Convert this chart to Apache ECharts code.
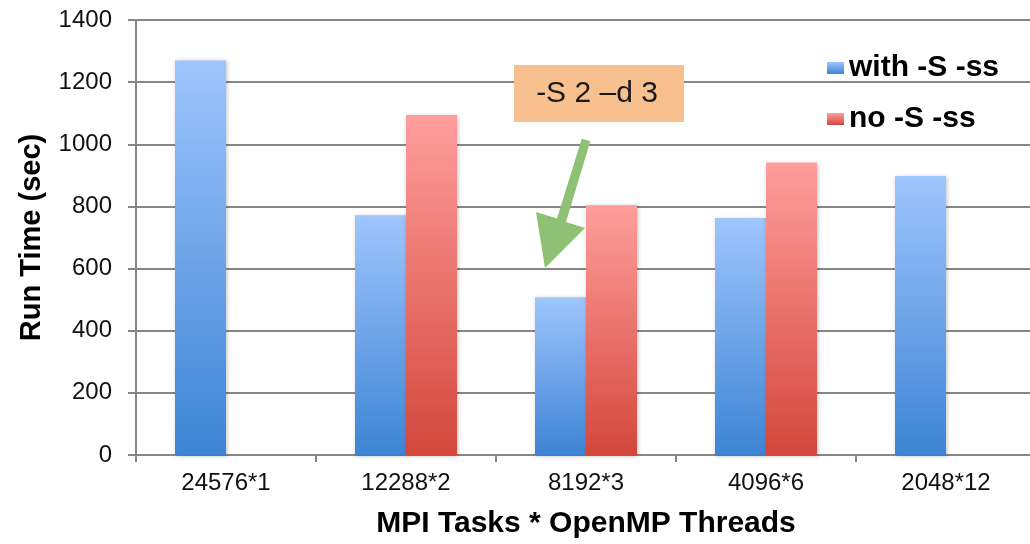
<!DOCTYPE html>
<html>
<head>
<meta charset="utf-8">
<script src="https://cdn.jsdelivr.net/npm/echarts@6/dist/echarts.min.js"></script>
<style>
html,body{margin:0;padding:0;background:#fff;overflow:hidden;width:1030px;height:544px;}
#chart{width:1036px;height:544px;}
</style>
</head>
<body>
<div id="chart"></div>
<script>
const categories = ['24576*1', '12288*2', '8192*3', '4096*6', '2048*12'];
const withS = [1270, 772, 508, 763, 898];
const noS = [null, 1094, 804, 941, null];
const seriesNames = ['with -S -ss', 'no -S -ss'];
const yTicks = [0, 200, 400, 600, 800, 1000, 1200, 1400];
const annotationText = '-S 2 \u2013d 3';

const FONT = '"Liberation Sans", Arial, Helvetica, sans-serif';
const chart = echarts.init(document.getElementById('chart'), null, {renderer: 'canvas'});

function grad(top, bottom) {
  return new echarts.graphic.LinearGradient(0, 0, 0, 1, [
    {offset: 0, color: top}, {offset: 1, color: bottom}
  ]);
}

const option = {
  backgroundColor: '#ffffff',
  animation: false,
  grid: {left: 136, right: 0, top: 20, bottom: 87, containLabel: false},
  legend: {
    orient: 'vertical',
    left: 822,
    top: 48,
    itemWidth: 17,
    itemHeight: 12,
    itemGap: 21,
    icon: 'rect',
    textStyle: {fontFamily: FONT, fontSize: 30, fontWeight: 'bold', color: '#000', lineHeight: 28},
    data: seriesNames
  },
  xAxis: {
    type: 'category',
    data: categories,
    name: 'MPI Tasks * OpenMP Threads',
    nameLocation: 'middle',
    nameGap: 54,
    nameTextStyle: {fontFamily: FONT, fontSize: 30, fontWeight: 'bold', color: '#000'},
    axisLine: {lineStyle: {color: '#868686', width: 2}},
    axisTick: {show: true, length: 7, lineStyle: {color: '#868686', width: 2}},
    axisLabel: {fontFamily: FONT, fontSize: 24, color: '#111', margin: 16}
  },
  yAxis: {
    type: 'value',
    min: yTicks[0],
    max: yTicks[yTicks.length - 1],
    interval: yTicks[1] - yTicks[0],
    name: 'Run Time (sec)',
    nameLocation: 'middle',
    nameGap: 90,
    nameTextStyle: {fontFamily: FONT, fontSize: 29, fontWeight: 'bold', color: '#000'},
    axisLine: {show: true, lineStyle: {color: '#868686', width: 2}},
    axisTick: {show: true, length: 8, lineStyle: {color: '#868686', width: 2}},
    axisLabel: {fontFamily: FONT, fontSize: 24, color: '#111', margin: 24, formatter: function (v) { return String(v); }},
    splitLine: {show: true, lineStyle: {color: '#868686', width: 2}}
  },
  series: [
    {
      name: seriesNames[0],
      type: 'bar',
      data: withS,
      barWidth: 51,
      barGap: '0%',
      itemStyle: {
        color: grad('#9fc5fd', '#3d84d4'),
        shadowColor: 'rgba(0,0,0,0.25)', shadowBlur: 4, shadowOffsetX: 1, shadowOffsetY: 1
      }
    },
    {
      name: seriesNames[1],
      type: 'bar',
      data: noS,
      barWidth: 51,
      barGap: '0%',
      itemStyle: {
        color: grad('#ff9e9c', '#d3473c'),
        shadowColor: 'rgba(0,0,0,0.25)', shadowBlur: 4, shadowOffsetX: 1, shadowOffsetY: 1
      }
    }
  ],
  graphic: [
    {
      type: 'rect',
      shape: {x: 514, y: 65, width: 170, height: 57},
      style: {fill: '#f9c08f'},
      z: 100
    },
    {
      type: 'text',
      x: 597, y: 94,
      style: {text: annotationText, fontFamily: FONT, fontSize: 30, fill: '#1a1a1a', align: 'center', verticalAlign: 'middle'},
      z: 101
    },
    {
      type: 'polygon',
      shape: {points: [[581.7,138.8],[590.3,141.2],[566.0,222.0],[585,228],[545,268],[536,212],[557.0,218.5]]},
      style: {fill: '#8ec173'},
      z: 100
    }
  ]
};
chart.setOption(option);
</script>
</body>
</html>
